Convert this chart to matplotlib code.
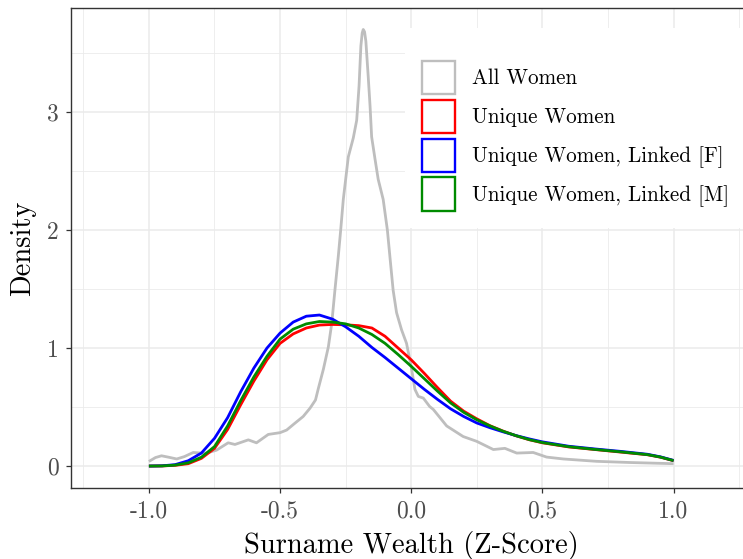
import matplotlib
matplotlib.use("Agg")
import matplotlib.pyplot as plt
from matplotlib.patches import Rectangle
from matplotlib.ticker import FixedLocator

# ---------------- data ----------------
all_x = [-1.0, -0.975, -0.952, -0.925, -0.894, -0.865, -0.831, -0.80, -0.78, -0.742,
         -0.698, -0.672, -0.621, -0.59, -0.545, -0.50, -0.475, -0.443, -0.412, -0.386,
         -0.365, -0.355, -0.335, -0.316, -0.303, -0.291, -0.278, -0.269, -0.259, -0.25,
         -0.240, -0.221, -0.208, -0.199, -0.192, -0.187, -0.183, -0.178, -0.173, -0.164,
         -0.157, -0.151, -0.138, -0.126, -0.107, -0.091, -0.079, -0.069, -0.056, -0.037,
         -0.018, 0.0, 0.014, 0.027, 0.046, 0.07, 0.084, 0.135, 0.198, 0.249,
         0.313, 0.357, 0.402, 0.465, 0.516, 0.58, 0.707, 0.834, 1.0]
all_y = [0.039, 0.072, 0.087, 0.075, 0.06, 0.08, 0.115, 0.11, 0.11, 0.135,
         0.197, 0.183, 0.222, 0.197, 0.268, 0.283, 0.305, 0.364, 0.42, 0.49,
         0.56, 0.65, 0.82, 1.01, 1.21, 1.49, 1.78, 2.0, 2.26, 2.43,
         2.62, 2.78, 2.93, 3.22, 3.56, 3.67, 3.70, 3.68, 3.60, 3.30,
         3.05, 2.79, 2.60, 2.43, 2.26, 2.0, 1.72, 1.49, 1.30, 1.155,
         1.04, 0.84, 0.65, 0.59, 0.576, 0.505, 0.48, 0.34, 0.25, 0.21,
         0.14, 0.15, 0.11, 0.115, 0.076, 0.06, 0.04, 0.03, 0.02]

grid_x = [-1.0, -0.95, -0.9, -0.85, -0.8, -0.75, -0.7, -0.65, -0.6, -0.55, -0.5,
          -0.45, -0.4, -0.35, -0.3, -0.25, -0.2, -0.15, -0.1, -0.05, 0.0, 0.05,
          0.1, 0.15, 0.2, 0.25, 0.3, 0.35, 0.4, 0.45, 0.5, 0.6, 0.7, 0.8, 0.9,
          0.95, 1.0]
unique_y = [0.0, 0.001, 0.006, 0.02, 0.065, 0.15, 0.31, 0.52, 0.72, 0.90, 1.04,
            1.12, 1.17, 1.195, 1.20, 1.197, 1.19, 1.17, 1.10, 1.0, 0.90, 0.785,
            0.665, 0.55, 0.465, 0.40, 0.342, 0.296, 0.256, 0.223, 0.197, 0.162, 0.14,
            0.118, 0.096, 0.075, 0.045]
linked_f_y = [0.0, 0.002, 0.012, 0.045, 0.11, 0.235, 0.41, 0.63, 0.83, 1.0, 1.127,
              1.22, 1.27, 1.28, 1.245, 1.18, 1.10, 1.005, 0.92, 0.83, 0.74, 0.65,
              0.565, 0.485, 0.42, 0.365, 0.325, 0.29, 0.258, 0.23, 0.205, 0.168, 0.145,
              0.124, 0.10, 0.078, 0.048]
linked_m_y = [0.0, 0.001, 0.008, 0.027, 0.075, 0.165, 0.34, 0.555, 0.755, 0.93, 1.076,
              1.16, 1.205, 1.225, 1.22, 1.205, 1.17, 1.115, 1.04, 0.945, 0.845, 0.74,
              0.635, 0.535, 0.455, 0.392, 0.34, 0.295, 0.257, 0.224, 0.199, 0.164, 0.141,
              0.12, 0.097, 0.076, 0.046]

labels = ["All Women", "Unique Women", "Unique Women, Linked [F]", "Unique Women, Linked [M]"]
colors = ["#BEBEBE", "#FF0000", "#0000FF", "#008B00"]

xticks = [-1.0, -0.5, 0.0, 0.5, 1.0]
xticklabels = ["-1.0", "-0.5", "0.0", "0.5", "1.0"]
xminor = [-1.25, -0.75, -0.25, 0.25, 0.75, 1.25]
yticks = [0, 1, 2, 3]
yticklabels = ["0", "1", "2", "3"]
yminor = [0.5, 1.5, 2.5, 3.5]

# ---------------- figure ----------------
plt.rcParams["font.family"] = ["cmr10", "DejaVu Serif"]
plt.rcParams["axes.formatter.use_mathtext"] = True

W, H = 743, 559
fig = plt.figure(figsize=(W / 100, H / 100), dpi=100)
left_px, right_px, top_px, bottom_px = 71, 751.5, 8, 488
ax = fig.add_axes([left_px / W, 1 - bottom_px / H, (right_px - left_px) / W, (bottom_px - top_px) / H])

ax.set_xlim(-1.297, 1.297)
ax.set_ylim(-0.186, 3.882)

ax.set_axisbelow(True)
ax.xaxis.set_major_locator(FixedLocator(xticks))
ax.yaxis.set_major_locator(FixedLocator(yticks))
ax.xaxis.set_minor_locator(FixedLocator(xminor))
ax.yaxis.set_minor_locator(FixedLocator(yminor))
ax.set_xticklabels(xticklabels)
ax.set_yticklabels(yticklabels)
ax.grid(True, which="major", color="#EBEBEB", linewidth=1.1)
ax.grid(True, which="minor", color="#EBEBEB", linewidth=0.6)
ax.tick_params(which="minor", length=0)
ax.tick_params(which="major", length=3.8, width=0.9, color="#333333",
               labelsize=17, labelcolor="#4D4D4D", pad=5)

for s in ax.spines.values():
    s.set_color("#333333")
    s.set_linewidth(1.0)

lw = 2.0
kw = dict(lw=lw, solid_joinstyle="round", solid_capstyle="butt")
ax.plot(all_x, all_y, color=colors[0], zorder=2, **kw)
ax.plot(grid_x, unique_y, color=colors[1], zorder=3, **kw)
ax.plot(grid_x, linked_f_y, color=colors[2], zorder=4, **kw)
ax.plot(grid_x, linked_m_y, color=colors[3], zorder=5, **kw)

ax.set_xlabel("Surname Wealth (Z-Score)", fontsize=20.5, labelpad=6)
ax.set_ylabel("Density", fontsize=20.5, labelpad=8)

# legend background (covers grid)
ax.add_patch(Rectangle((405 / W, 1 - 228 / H), (W - 405) / W, 200 / H,
                       transform=fig.transFigure, facecolor="white",
                       edgecolor="none", zorder=1.5))

handles = [Rectangle((0, 0), 1, 1, facecolor="white", edgecolor=c, linewidth=1.7)
           for c in colors]
leg = fig.legend(handles, labels, loc="upper left",
                 bbox_to_anchor=(422 / W, 1 - 61 / H),
                 frameon=False, fontsize=15.2, handlelength=1.55, handleheight=2.05,
                 labelspacing=0.26, handletextpad=0.8, borderpad=0, borderaxespad=0)

fig.savefig("out.png", dpi=100)
